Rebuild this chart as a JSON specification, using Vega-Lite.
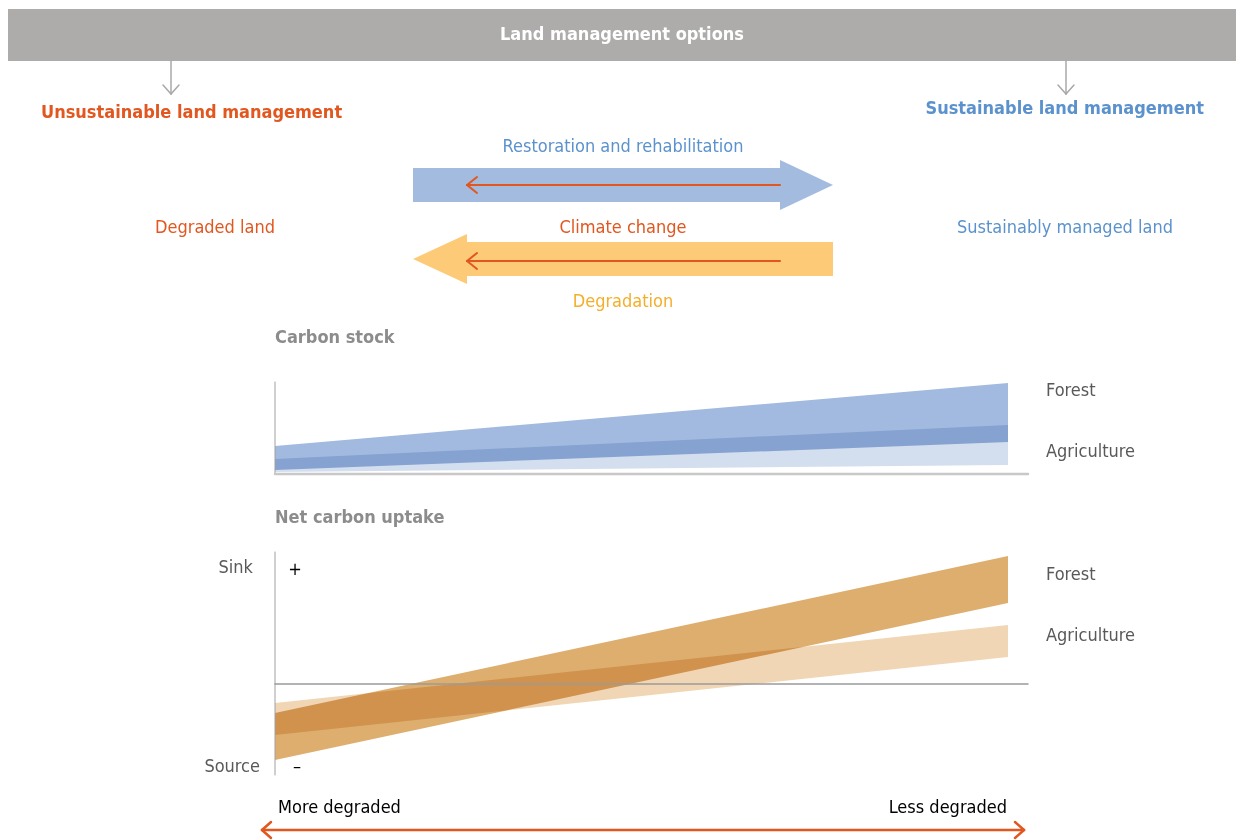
{
  "$schema": "https://vega.github.io/schema/vega-lite/v6.json",
  "width": 1236,
  "height": 840,
  "padding": 0,
  "autosize": {"type": "fit", "contains": "padding"},
  "config": {"view": {"stroke": null}, "font": "DejaVu Sans Condensed"},
  "encoding": {
    "x": {"field": "x", "type": "quantitative", "scale": {"domain": [0, 1236], "nice": false, "zero": false}, "axis": null},
    "y": {"field": "y", "type": "quantitative", "scale": {"domain": [0, 840], "nice": false, "zero": false, "reverse": true}, "axis": null}
  },
  "layer": [
    {
      "data": {"values": [
        {"x": 8, "x2": 1236, "y": 9, "y2": 61, "c": "#ADACAA"},
        {"x": 413, "x2": 780, "y": 168, "y2": 202, "c": "#A3BBDE"},
        {"x": 467, "x2": 833, "y": 242, "y2": 276, "c": "#FDCB78"}
      ]},
      "mark": {"type": "rect"},
      "encoding": {
        "x2": {"field": "x2"},
        "y2": {"field": "y2"},
        "color": {"field": "c", "type": "nominal", "scale": null}
      }
    },
    {
      "data": {"values": [
        {"id": "bh", "x": 780, "y": 160, "y2": 210, "c": "#A3BBDE"},
        {"id": "bh", "x": 833, "y": 185, "y2": 185, "c": "#A3BBDE"},
        {"id": "yh", "x": 413, "y": 259, "y2": 259, "c": "#FDCB78"},
        {"id": "yh", "x": 467, "y": 234, "y2": 284, "c": "#FDCB78"}
      ]},
      "mark": {"type": "area", "opacity": 1},
      "encoding": {
        "y2": {"field": "y2"},
        "detail": {"field": "id"},
        "color": {"field": "c", "type": "nominal", "scale": null}
      }
    },
    {
      "data": {"values": [
        {"id": "sf", "x": 275, "y": 446, "y2": 470, "c": "#A2BADF"},
        {"id": "sf", "x": 1008, "y": 383, "y2": 442, "c": "#A2BADF"},
        {"id": "sa", "x": 275, "y": 459, "y2": 472, "c": "#D3DEEF"},
        {"id": "sa", "x": 1008, "y": 425, "y2": 465, "c": "#D3DEEF"},
        {"id": "nf", "x": 275, "y": 713, "y2": 760, "c": "#DEAE6E"},
        {"id": "nf", "x": 1008, "y": 556, "y2": 603, "c": "#DEAE6E"},
        {"id": "na", "x": 275, "y": 703, "y2": 735, "c": "#F0D6B5"},
        {"id": "na", "x": 1008, "y": 625, "y2": 657, "c": "#F0D6B5"}
      ]},
      "mark": {"type": "area", "opacity": 1, "blend": "multiply"},
      "encoding": {
        "y2": {"field": "y2"},
        "detail": {"field": "id"},
        "color": {"field": "c", "type": "nominal", "scale": null}
      }
    },
    {
      "data": {"values": [
        {"x": 171, "y": 61, "x2": 171, "y2": 94, "c": "#A8A8A8", "w": 1.5},
        {"x": 171, "y": 94, "x2": 163, "y2": 85, "c": "#A8A8A8", "w": 1.5},
        {"x": 171, "y": 94, "x2": 179, "y2": 85, "c": "#A8A8A8", "w": 1.5},
        {"x": 1066, "y": 61, "x2": 1066, "y2": 94, "c": "#A8A8A8", "w": 1.5},
        {"x": 1066, "y": 94, "x2": 1058, "y2": 85, "c": "#A8A8A8", "w": 1.5},
        {"x": 1066, "y": 94, "x2": 1074, "y2": 85, "c": "#A8A8A8", "w": 1.5},
        {"x": 780, "y": 185, "x2": 467, "y2": 185, "c": "#E2561F", "w": 2},
        {"x": 467, "y": 185, "x2": 477, "y2": 177, "c": "#E2561F", "w": 2},
        {"x": 467, "y": 185, "x2": 477, "y2": 193, "c": "#E2561F", "w": 2},
        {"x": 780, "y": 261, "x2": 467, "y2": 261, "c": "#E2561F", "w": 2},
        {"x": 467, "y": 261, "x2": 477, "y2": 253, "c": "#E2561F", "w": 2},
        {"x": 467, "y": 261, "x2": 477, "y2": 269, "c": "#E2561F", "w": 2},
        {"x": 275, "y": 382, "x2": 275, "y2": 474, "c": "#A0A0A0", "w": 1},
        {"x": 275, "y": 474, "x2": 1028, "y2": 474, "c": "#C8C8C8", "w": 2.5},
        {"x": 275, "y": 552, "x2": 275, "y2": 775, "c": "#A0A0A0", "w": 1},
        {"x": 275, "y": 684, "x2": 1028, "y2": 684, "c": "#9A9A9A", "w": 1.5},
        {"x": 262, "y": 830, "x2": 1024, "y2": 830, "c": "#E2561F", "w": 2.5},
        {"x": 262, "y": 830, "x2": 271, "y2": 822, "c": "#E2561F", "w": 2.5},
        {"x": 262, "y": 830, "x2": 271, "y2": 838, "c": "#E2561F", "w": 2.5},
        {"x": 1024, "y": 830, "x2": 1015, "y2": 822, "c": "#E2561F", "w": 2.5},
        {"x": 1024, "y": 830, "x2": 1015, "y2": 838, "c": "#E2561F", "w": 2.5}
      ]},
      "mark": {"type": "rule", "strokeCap": "round"},
      "encoding": {
        "x2": {"field": "x2"},
        "y2": {"field": "y2"},
        "color": {"field": "c", "type": "nominal", "scale": null},
        "strokeWidth": {"field": "w", "type": "quantitative", "scale": null}
      }
    },
    {
      "data": {"values": [
        {"x": 622, "y": 35, "t": "Land management options", "c": "#FFFFFF"}
      ]},
      "mark": {"type": "text", "align": "center", "baseline": "middle", "fontWeight": "bold", "fontSize": 18},
      "encoding": {"text": {"field": "t"}, "color": {"field": "c", "type": "nominal", "scale": null}}
    },
    {
      "data": {"values": [
        {"x": 41, "y": 113, "t": "Unsustainable land management", "c": "#E2561F"},
        {"x": 275, "y": 338, "t": "Carbon stock", "c": "#8C8C8C"},
        {"x": 275, "y": 518, "t": "Net carbon uptake", "c": "#8C8C8C"}
      ]},
      "mark": {"type": "text", "align": "left", "baseline": "middle", "fontWeight": "bold", "fontSize": 18},
      "encoding": {"text": {"field": "t"}, "color": {"field": "c", "type": "nominal", "scale": null}}
    },
    {
      "data": {"values": [
        {"x": 1204, "y": 109, "t": "Sustainable land management", "c": "#5B92CD"}
      ]},
      "mark": {"type": "text", "align": "right", "baseline": "middle", "fontWeight": "bold", "fontSize": 18},
      "encoding": {"text": {"field": "t"}, "color": {"field": "c", "type": "nominal", "scale": null}}
    },
    {
      "data": {"values": [
        {"x": 623, "y": 147, "t": "Restoration and rehabilitation", "c": "#5B92CD"},
        {"x": 215, "y": 228, "t": "Degraded land", "c": "#E2561F"},
        {"x": 623, "y": 228, "t": "Climate change", "c": "#E2561F"},
        {"x": 1065, "y": 228, "t": "Sustainably managed land", "c": "#5B92CD"},
        {"x": 623, "y": 302, "t": "Degradation", "c": "#F5AE2A"},
        {"x": 295, "y": 570, "t": "+", "c": "#000000"},
        {"x": 297, "y": 767, "t": "–", "c": "#000000"}
      ]},
      "mark": {"type": "text", "align": "center", "baseline": "middle", "fontSize": 18},
      "encoding": {"text": {"field": "t"}, "color": {"field": "c", "type": "nominal", "scale": null}}
    },
    {
      "data": {"values": [
        {"x": 1046, "y": 391, "t": "Forest", "c": "#595959"},
        {"x": 1046, "y": 452, "t": "Agriculture", "c": "#595959"},
        {"x": 1046, "y": 575, "t": "Forest", "c": "#595959"},
        {"x": 1046, "y": 636, "t": "Agriculture", "c": "#595959"},
        {"x": 278, "y": 808, "t": "More degraded", "c": "#000000"}
      ]},
      "mark": {"type": "text", "align": "left", "baseline": "middle", "fontSize": 18},
      "encoding": {"text": {"field": "t"}, "color": {"field": "c", "type": "nominal", "scale": null}}
    },
    {
      "data": {"values": [
        {"x": 253, "y": 568, "t": "Sink", "c": "#595959"},
        {"x": 260, "y": 767, "t": "Source", "c": "#595959"},
        {"x": 1007, "y": 808, "t": "Less degraded", "c": "#000000"}
      ]},
      "mark": {"type": "text", "align": "right", "baseline": "middle", "fontSize": 18},
      "encoding": {"text": {"field": "t"}, "color": {"field": "c", "type": "nominal", "scale": null}}
    }
  ]
}
